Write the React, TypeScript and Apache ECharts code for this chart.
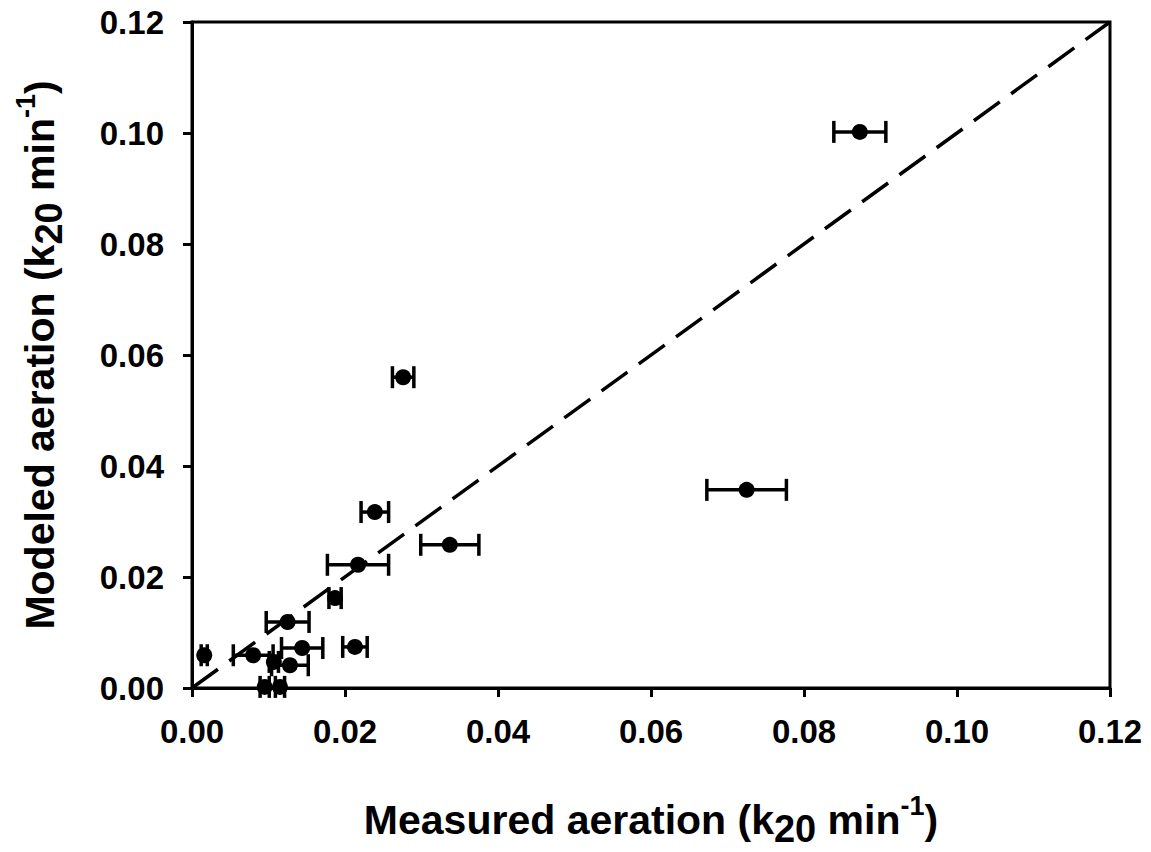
import React, { useEffect, useRef } from "react";
import * as echarts from "echarts";

// Measured (x), modeled (y) aeration and horizontal error (± on x)
const measured = [0.0873, 0.0725, 0.0276, 0.0239, 0.0337, 0.0217, 0.0187, 0.0125, 0.0144, 0.0213, 0.0080, 0.0128, 0.0016, 0.0107, 0.0095, 0.0115];
const modeled = [0.1002, 0.0357, 0.0560, 0.0317, 0.0258, 0.0222, 0.0162, 0.0119, 0.0072, 0.0074, 0.0059, 0.0041, 0.0059, 0.0047, 0.0002, 0.0002];
const xError = [0.0034, 0.0052, 0.0014, 0.0018, 0.0038, 0.0040, 0.0008, 0.0028, 0.0027, 0.0016, 0.0026, 0.0024, 0.0004, 0.0006, 0.0006, 0.0006];
const oneToOne = [[0, 0], [0.12, 0.12]];
const axisMin = 0;
const axisMax = 0.12;
const axisStep = 0.02;

const FONT = "Arial, 'Liberation Sans', sans-serif";

export default function App() {
  const ref = useRef<HTMLDivElement>(null);
  useEffect(() => {
    if (!ref.current) return;
    const chart = echarts.init(ref.current, undefined, { renderer: "svg" });
    const points = measured.map((x, i) => [x, modeled[i]]);
    const errData = measured.map((x, i) => [x, modeled[i], xError[i]]);
    const nameRich = {
      a: { fontSize: 41, fontWeight: "bold", fontFamily: FONT, color: "#000", lineHeight: 56, verticalAlign: "middle" },
      sub: { fontSize: 38, fontWeight: "bold", fontFamily: FONT, color: "#000", lineHeight: 38, verticalAlign: "bottom" },
      sup: { fontSize: 27, fontWeight: "bold", fontFamily: FONT, color: "#000", lineHeight: 30, verticalAlign: "top" },
    };
    const axisCommon = {
      type: "value",
      min: axisMin,
      max: axisMax,
      interval: axisStep,
      nameLocation: "middle",
      axisLine: { show: true, onZero: false, lineStyle: { color: "#000", width: 3 } },
      axisTick: { show: true, inside: false, length: 9, lineStyle: { color: "#000", width: 3 } },
      splitLine: { show: false },
      axisLabel: {
        formatter: (v: number) => v.toFixed(2),
        fontSize: 33,
        fontWeight: "bold",
        fontFamily: FONT,
        color: "#000",
      },
    };
    chart.setOption({
      animation: false,
      backgroundColor: "#fff",
      grid: {
        left: 192,
        right: 41,
        top: 22,
        bottom: 164,
        show: true,
        borderColor: "#000",
        borderWidth: 3,
        backgroundColor: "transparent",
        outerBoundsMode: "none",
        containLabel: false,
      },
      xAxis: {
        ...axisCommon,
        name: "{a|Measured aeration (k}{sub|20}{a| min}{sup|-1}{a|)}",
        nameGap: 104,
        nameTextStyle: { rich: nameRich },
        axisLabel: { ...axisCommon.axisLabel, margin: 27 },
      },
      yAxis: {
        ...axisCommon,
        name: "{a|Modeled aeration (k}{sub|20}{a| min}{sup|-1}{a|)}",
        nameGap: 124,
        nameRotate: 90,
        nameTextStyle: { rich: nameRich },
        axisLabel: { ...axisCommon.axisLabel, margin: 28 },
      },
      series: [
        {
          type: "line",
          data: oneToOne,
          symbol: "none",
          lineStyle: { color: "#000", width: 3.5, type: [32, 14] },
          z: 1,
        },
        {
          type: "custom",
          data: errData,
          encode: { x: 0, y: 1 },
          clip: false,
          z: 2,
          renderItem: (params: any, api: any) => {
            const x = api.value(0);
            const y = api.value(1);
            const e = api.value(2);
            const p1 = api.coord([x - e, y]);
            const p2 = api.coord([x + e, y]);
            const h = 11;
            const style = { stroke: "#000", lineWidth: 3.5 };
            return {
              type: "group",
              children: [
                { type: "line", shape: { x1: p1[0], y1: p1[1], x2: p2[0], y2: p2[1] }, style },
                { type: "line", shape: { x1: p1[0], y1: p1[1] - h, x2: p1[0], y2: p1[1] + h }, style },
                { type: "line", shape: { x1: p2[0], y1: p2[1] - h, x2: p2[0], y2: p2[1] + h }, style },
              ],
            };
          },
        },
        {
          type: "scatter",
          data: points,
          symbol: "circle",
          symbolSize: 16,
          itemStyle: { color: "#000", opacity: 1 },
          clip: false,
          z: 3,
        },
      ],
    });
    return () => chart.dispose();
  }, []);
  return (
    <div
      ref={ref}
      style={{ position: "fixed", left: 0, top: 0, width: 1151, height: 852, background: "#fff" }}
    />
  );
}
